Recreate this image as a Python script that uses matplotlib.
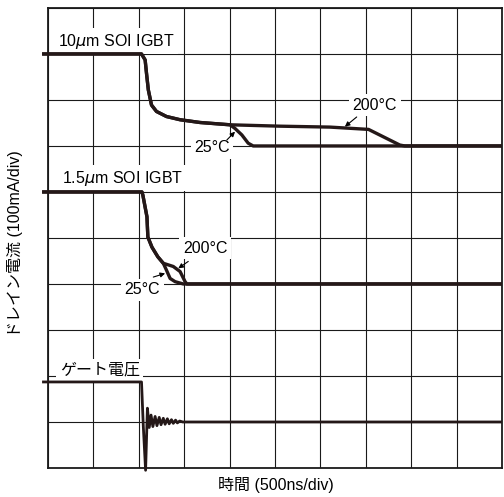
# IGBT turn-off waveforms (oscilloscope style trace)
import matplotlib
matplotlib.use('Agg')
import matplotlib.pyplot as plt

plt.rcParams['font.family'] = ['Liberation Sans', 'Noto Sans CJK JP']

# time in divisions, signal in divisions (10 x 10 screen)
t_10um_200 = [-0.13, 2.06, 2.14, 2.17, 2.21, 2.28, 2.39, 2.61, 2.91, 3.35, 4.01, 5.11, 6.21, 7.06, 7.75, 7.86, 10.0]
i_10um_200 = [9.0, 9.0, 8.87, 8.58, 8.22, 7.89, 7.75, 7.64, 7.57, 7.51, 7.46, 7.43, 7.41, 7.36, 7.02, 7.0, 7.0]
t_10um_25 = [-0.13, 2.06, 2.14, 2.17, 2.21, 2.28, 2.39, 2.61, 2.91, 3.35, 4.01, 4.12, 4.27, 4.41, 4.52, 10.0]
i_10um_25 = [9.0, 9.0, 8.87, 8.58, 8.22, 7.89, 7.75, 7.64, 7.57, 7.51, 7.46, 7.38, 7.24, 7.06, 7.0, 7.0]

t_15um_25 = [-0.13, 2.07, 2.09, 2.18, 2.20, 2.29, 2.42, 2.54, 2.61, 2.69, 2.80, 2.98, 10.0]
i_15um_25 = [6.0, 6.0, 5.93, 5.46, 5.02, 4.80, 4.59, 4.45, 4.30, 4.12, 4.05, 4.0, 4.0]
t_15um_200 = [-0.13, 2.07, 2.09, 2.18, 2.20, 2.29, 2.42, 2.54, 2.76, 2.91, 3.02, 3.06, 10.0]
i_15um_200 = [6.0, 6.0, 5.93, 5.46, 5.02, 4.80, 4.59, 4.45, 4.38, 4.27, 4.05, 4.0, 4.0]

t_gate = [-0.13, 2.06, 2.10, 2.15, 2.19, 2.23, 2.27, 2.31, 2.36, 2.40, 2.45, 2.49, 2.54, 2.58,
          2.63, 2.67, 2.72, 2.76, 2.81, 2.85, 2.90, 2.97, 10.0]
v_gate = [1.87, 1.87, 0.90, -0.05, 1.30, 0.88, 1.15, 0.90, 1.12, 0.92, 1.10, 0.94, 1.08, 0.95,
          1.07, 0.96, 1.05, 0.97, 1.04, 0.98, 1.02, 1.0, 1.0]

trace_col = '#241818'
grid_col = '#1a1a1a'

fig = plt.figure(figsize=(5.04, 4.97), dpi=100)
ax = fig.add_axes([0.0952, 0.0584, 0.9008, 0.9256])
ax.set_xlim(0, 10)
ax.set_ylim(0, 10)

# grid
for k in range(11):
    ax.axvline(k, color=grid_col, lw=0.8, zorder=1)
    ax.axhline(k, color=grid_col, lw=0.8, zorder=1)
ax.set_xticks([])
ax.set_yticks([])
for s in ax.spines.values():
    s.set_linewidth(1.3)
    s.set_color(grid_col)

# traces
lw = 2.4
ax.plot(t_10um_200, i_10um_200, color=trace_col, lw=lw, clip_on=False, zorder=4, solid_capstyle='butt')
ax.plot(t_10um_25, i_10um_25, color=trace_col, lw=lw, clip_on=False, zorder=4, solid_capstyle='butt')
ax.plot(t_15um_25, i_15um_25, color=trace_col, lw=lw, clip_on=False, zorder=4, solid_capstyle='butt')
ax.plot(t_15um_200, i_15um_200, color=trace_col, lw=lw, clip_on=False, zorder=4, solid_capstyle='butt')
ax.plot(t_gate, v_gate, color=trace_col, lw=2.0, clip_on=False, zorder=4, solid_capstyle='butt')

box = dict(facecolor='white', edgecolor='none', pad=2.5)
fs = 11.5

# trace names
ax.text(0.22, 9.28, '10$\\mu$m SOI IGBT', fontsize=fs, ha='left', va='center', bbox=box, zorder=3)
ax.text(0.30, 6.30, '1.5$\\mu$m SOI IGBT', fontsize=fs, ha='left', va='center', bbox=box, zorder=3)
ax.text(0.26, 2.13, 'ゲート電圧', fontsize=fs, ha='left', va='center', bbox=box, zorder=3)

# temperature labels with arrows
arr = dict(arrowstyle='-|>', color='black', lw=0.8, mutation_scale=7, shrinkA=0, shrinkB=0)
ax.text(3.61, 6.96, '25°C', fontsize=fs, ha='center', va='center', bbox=box, zorder=3)
ax.annotate('', xy=(4.12, 7.31), xytext=(3.94, 7.13), arrowprops=arr, zorder=5)
ax.text(7.2, 7.89, '200°C', fontsize=fs, ha='center', va='center', bbox=box, zorder=3)
ax.annotate('', xy=(6.54, 7.42), xytext=(6.80, 7.63), arrowprops=arr, zorder=5)

ax.text(3.46, 4.78, '200°C', fontsize=fs, ha='center', va='center', bbox=box, zorder=3)
ax.annotate('', xy=(2.87, 4.34), xytext=(3.09, 4.49), arrowprops=arr, zorder=5)
ax.text(2.08, 3.87, '25°C', fontsize=fs, ha='center', va='center', bbox=box, zorder=3)
ax.annotate('', xy=(2.58, 4.23), xytext=(2.32, 4.15), arrowprops=arr, zorder=5)

# axis labels
fig.text(0.548, 0.024, '時間 (500ns/div)', fontsize=fs, ha='center', va='center')
fig.text(0.03, 0.51, 'ドレイン電流 (100mA/div)', fontsize=fs, ha='center', va='center', rotation=90)

fig.savefig('out.png', dpi=100)
